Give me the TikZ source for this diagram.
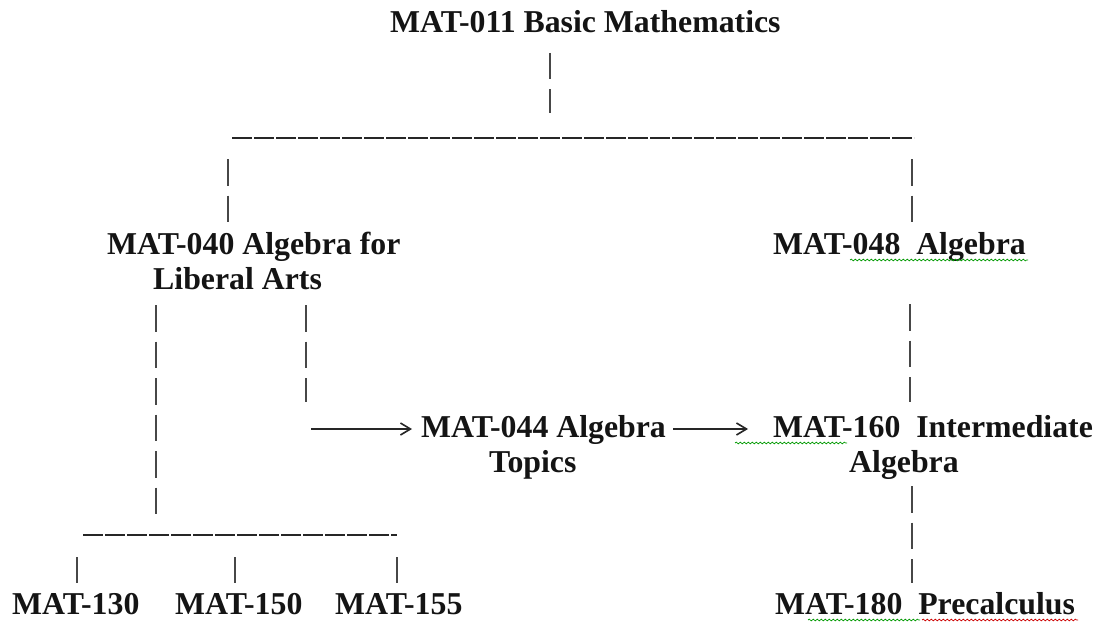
\documentclass[tikz,border=0pt]{standalone}
\usepackage{fontspec}
\setmainfont{Liberation Serif}
\usetikzlibrary{arrows.meta,decorations.pathmorphing}
\begin{document}
\begin{tikzpicture}[x=1pt,y=-1pt,
  lbl/.style={anchor=base west,inner sep=0pt,font=\fontsize{31.8}{36}\selectfont\bfseries,text=black!92},
  pipe/.style={line width=1.6pt,draw=black!72,dash pattern=on 26.5pt off 10pt},
  bar/.style={line width=1.8pt,draw=black!85,dash pattern=on 20pt off 2pt},
  arr/.style={line width=1.8pt,draw=black!85,-{Straight Barb[length=10pt,width=12pt,line width=1.6pt]}},
  squig/.style={decorate,decoration={snake,amplitude=0.9pt,segment length=4pt},line width=0.7pt},
]
\fill[white] (0,0) rectangle (1094,623);
\useasboundingbox (0,0) rectangle (1094,623);

% text nodes
\node[lbl] (n011) at (390,33) {MAT-011 Basic Mathematics};
\node[lbl] (n040) at (107,254) {MAT-040 Algebra for};
\node[lbl] (n040b) at (153,289) {Liberal Arts};
\node[lbl] (n048) at (773,254) {MAT-048\ \ Algebra};
\node[lbl] (n044) at (421,437) {MAT-044 Algebra};
\node[lbl] (n044b) at (489,472) {Topics};
\node[lbl] (n160) at (773,437) {MAT-160\ \ Intermediate};
\node[lbl] (n160b) at (849,472) {Algebra};
\node[lbl] (n130) at (12,614) {MAT-130};
\node[lbl] (n150) at (175,614) {MAT-150};
\node[lbl] (n155) at (335,614) {MAT-155};
\node[lbl] (n180) at (775,614) {MAT-180\ \ Precalculus};

% connector coordinates
\coordinate (a1) at (550,53);  \coordinate (a2) at (550,113);
\coordinate (hl) at (232,138); \coordinate (hr) at (914,138);
\coordinate (l1) at (228,159); \coordinate (l2) at (228,222);
\coordinate (r1) at (912,159); \coordinate (r2) at (912,222);
\coordinate (c1) at (156,305); \coordinate (c2) at (156,514);
\coordinate (d1) at (306,305); \coordinate (d2) at (306,402);
\coordinate (e1) at (311,429); \coordinate (e2) at (412,429);
\coordinate (f1) at (673,429); \coordinate (f2) at (748,429);
\coordinate (g1) at (910,304); \coordinate (g2) at (910,402);
\coordinate (k1) at (912,486); \coordinate (k2) at (912,583);
\coordinate (bl) at (83,535);  \coordinate (br) at (397,535);
\coordinate (p1) at (77,557);  \coordinate (p2) at (77,583);
\coordinate (q1) at (235,557); \coordinate (q2) at (235,583);
\coordinate (s1) at (397,557); \coordinate (s2) at (397,583);

% connectors
\draw[pipe] (a1) -- (a2);
\draw[bar] (hl) -- (hr);
\draw[pipe] (l1) -- (l2);
\draw[pipe] (r1) -- (r2);
\draw[pipe] (c1) -- (c2);
\draw[pipe] (d1) -- (d2);
\draw[arr] (e1) -- (e2);
\draw[arr] (f1) -- (f2);
\draw[pipe] (g1) -- (g2);
\draw[pipe] (k1) -- (k2);
\draw[bar] (bl) -- (br);
\draw[pipe] (p1) -- (p2);
\draw[pipe] (q1) -- (q2);
\draw[pipe] (s1) -- (s2);

% spell-check squiggles
\draw[squig,draw=green!60!black] (850,260) -- (1028,260);
\draw[squig,draw=green!60!black] (735,443) -- (847,443);
\draw[squig,draw=green!60!black] (808,620) -- (920,620);
\draw[squig,draw=red!80!black] (922,620) -- (1078,620);
\end{tikzpicture}
\end{document}
